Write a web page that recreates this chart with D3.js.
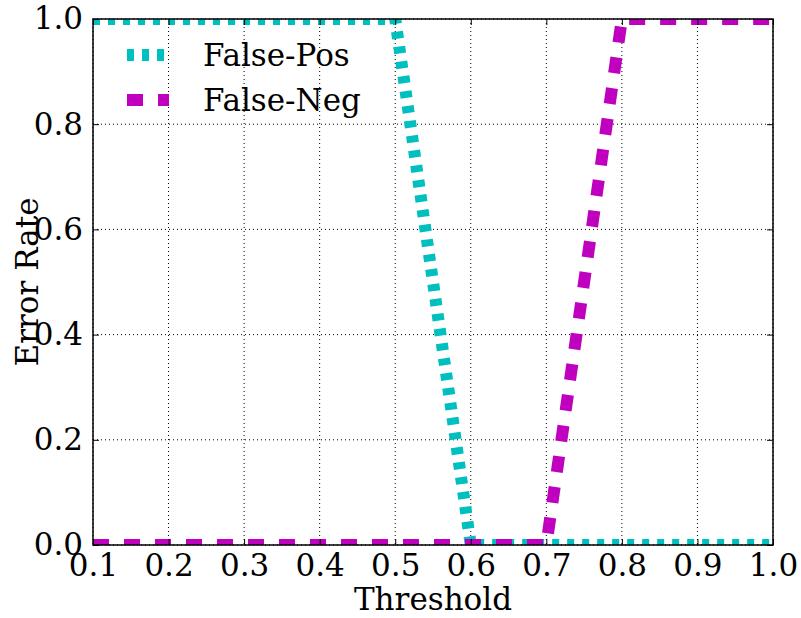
<!DOCTYPE html>
<html>
<head>
<meta charset="utf-8">
<script src="https://cdn.jsdelivr.net/npm/d3@7"></script>
<style>
  body { margin: 0; background: #fff; }
  text { font-family: "DejaVu Serif", serif; fill: #000; }
</style>
</head>
<body>
<svg id="chart" width="801" height="618"></svg>
<script>
// Threshold sweep and the two error rates
const thresholds = [0.1, 0.2, 0.3, 0.4, 0.5, 0.6, 0.7, 0.8, 0.9, 1.0];
const falsePos   = [1, 1, 1, 1, 1, 0, 0, 0, 0, 0];
const falseNeg   = [0, 0, 0, 0, 0, 0, 0, 1, 1, 1];
const xTicks = [0.1, 0.2, 0.3, 0.4, 0.5, 0.6, 0.7, 0.8, 0.9, 1.0];
const yTicks = [0.0, 0.2, 0.4, 0.6, 0.8, 1.0];
const seriesNames = ["False-Pos", "False-Neg"];

const svg = d3.select("#chart");
const m = { left: 93, top: 19, right: 28, bottom: 73 };
const W = 801 - m.left - m.right;
const H = 618 - m.top - m.bottom;
const fs = 31;

const x = d3.scaleLinear().domain([0.1, 1.0]).range([0, W]);
const y = d3.scaleLinear().domain([0, 1]).range([H, 0]);

const g = svg.append("g").attr("transform", `translate(${m.left},${m.top})`);

svg.append("defs").append("clipPath").attr("id", "plotClip")
  .append("rect").attr("width", W).attr("height", H);

// dotted grid
const grid = g.append("g");
grid.selectAll(".gx").data(xTicks).join("line")
  .attr("x1", d => x(d)).attr("x2", d => x(d)).attr("y1", 0).attr("y2", H)
  .attr("stroke", "#000").attr("stroke-width", 1).attr("stroke-dasharray", "1,3");
grid.selectAll(".gy").data(yTicks).join("line")
  .attr("y1", d => y(d)).attr("y2", d => y(d)).attr("x1", 0).attr("x2", W)
  .attr("stroke", "#000").attr("stroke-width", 1).attr("stroke-dasharray", "1,3");

// series
const line = d3.line().x((d, i) => x(thresholds[i])).y(d => y(d));
const plot = g.append("g").attr("clip-path", "url(#plotClip)");
plot.append("path").datum(falsePos).attr("d", line)
  .attr("fill", "none").attr("stroke", "#00bfbf").attr("stroke-width", 12)
  .attr("stroke-dasharray", "7,8");
plot.append("path").datum(falseNeg).attr("d", line)
  .attr("fill", "none").attr("stroke", "#bf00bf").attr("stroke-width", 12)
  .attr("stroke-dasharray", "16,15");

// axes with inward ticks on all four sides
const tickLen = 6;
const fmt = d3.format(".1f");
const axB = g.append("g").attr("transform", `translate(0,${H})`)
  .call(d3.axisBottom(x).tickValues(xTicks).tickFormat(fmt).tickSize(-tickLen).tickPadding(9));
const axT = g.append("g")
  .call(d3.axisTop(x).tickValues(xTicks).tickFormat("").tickSize(-tickLen));
const axL = g.append("g")
  .call(d3.axisLeft(y).tickValues(yTicks).tickFormat(fmt).tickSize(-tickLen).tickPadding(10));
const axR = g.append("g").attr("transform", `translate(${W},0)`)
  .call(d3.axisRight(y).tickValues(yTicks).tickFormat("").tickSize(-tickLen));
[axB, axT, axL, axR].forEach(a => {
  a.select(".domain").remove();
  a.selectAll(".tick line").attr("stroke", "#000").attr("stroke-width", 1);
  a.selectAll("text").style("font-family", "'DejaVu Serif', serif").style("font-size", fs + "px").attr("fill", "#000");
});

// frame
g.append("rect").attr("width", W).attr("height", H)
  .attr("fill", "none").attr("stroke", "#000").attr("stroke-width", 1.5);

// axis titles
svg.append("text").attr("x", m.left + W / 2).attr("y", 610)
  .attr("text-anchor", "middle").style("font-size", fs + "px").text("Threshold");
svg.append("text").attr("transform", `translate(38,${m.top + H / 2}) rotate(-90)`)
  .attr("text-anchor", "middle").style("font-size", fs + "px").text("Error Rate");

// legend
const legend = svg.append("g");
const legItems = [
  { name: seriesNames[0], color: "#00bfbf", dash: "7,8", y: 55 },
  { name: seriesNames[1], color: "#bf00bf", dash: "16,15", y: 100 }
];
legItems.forEach(it => {
  legend.append("line").attr("x1", 127).attr("x2", 169).attr("y1", it.y).attr("y2", it.y)
    .attr("stroke", it.color).attr("stroke-width", 12).attr("stroke-dasharray", it.dash);
  legend.append("text").attr("x", 203).attr("y", it.y).attr("dy", "0.36em")
    .style("font-size", fs + "px").text(it.name);
});
</script>
</body>
</html>
